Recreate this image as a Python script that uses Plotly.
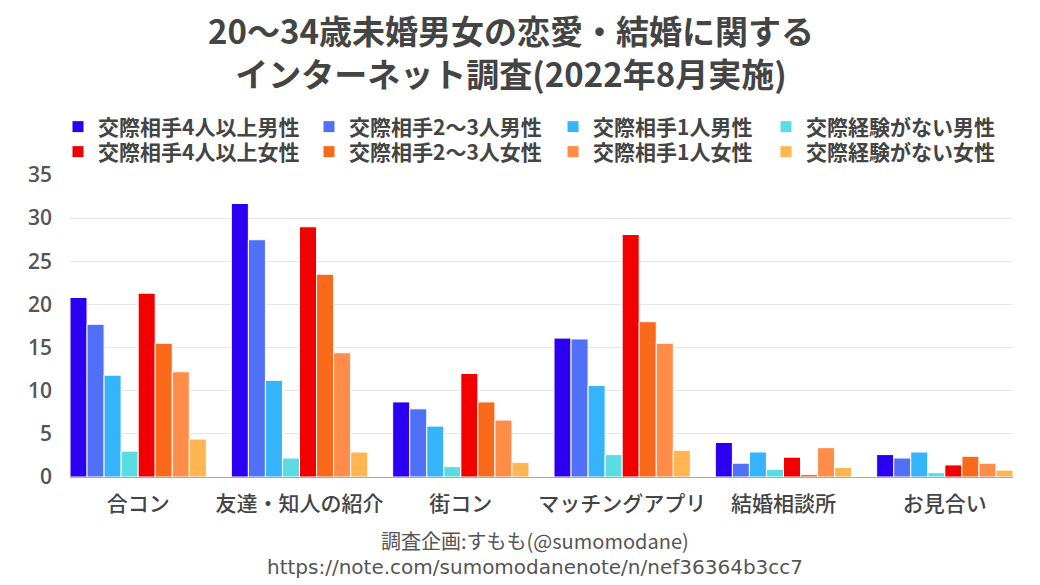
import plotly.graph_objects as go

categories = ["合コン", "友達・知人の紹介", "街コン", "マッチングアプリ", "結婚相談所", "お見合い"]

series_names = [
    "交際相手4人以上男性", "交際相手2〜3人男性", "交際相手1人男性", "交際経験がない男性",
    "交際相手4人以上女性", "交際相手2〜3人女性", "交際相手1人女性", "交際経験がない女性",
]

m_4plus = [20.8, 31.7, 8.7, 16.1, 4.0, 2.6]
m_2to3 = [17.7, 27.5, 7.9, 16.0, 1.6, 2.2]
m_1 = [11.8, 11.2, 5.9, 10.6, 2.9, 2.9]
m_none = [3.0, 2.2, 1.2, 2.6, 0.9, 0.5]
f_4plus = [21.3, 29.0, 12.0, 28.1, 2.3, 1.4]
f_2to3 = [15.5, 23.5, 8.7, 18.0, 0.3, 2.4]
f_1 = [12.2, 14.4, 6.6, 15.5, 3.4, 1.6]
f_none = [4.4, 2.9, 1.7, 3.1, 1.1, 0.8]

series_values = [m_4plus, m_2to3, m_1, m_none, f_4plus, f_2to3, f_1, f_none]
colors = ["#2b00f0", "#5070f8", "#36b4fb", "#5adde2",
          "#f20000", "#f8691a", "#ff8c48", "#ffb552"]

title_text = "20〜34歳未婚男女の恋愛・結婚に関する<br>インターネット調査(2022年8月実施)"
footer_lines = ["調査企画:すもも(@sumomodane)", "https://note.com/sumomodanenote/n/nef36364b3cc7"]

JP = "Noto Sans CJK JP"

# The page body has an 8px margin; the figure is sized to fill the rest of the window.
OFF = 8
W, H = 1040 - OFF, 585 - OFF
L, R, T, B = 70 - OFF, 27, 175 - OFF, 108

fig = go.Figure()
legend_ids = ["legend"] + [f"legend{k}" for k in range(2, 9)]
for i, (name, vals, col) in enumerate(zip(series_names, series_values, colors)):
    fig.add_trace(go.Bar(
        x=categories, y=vals, name=name,
        marker=dict(color=col, line=dict(color="white", width=1)),
        legend=legend_ids[i],
        hovertemplate="%{x}<br>" + name + ": %{y}<extra></extra>",
    ))

legend_common = dict(
    orientation="v", xref="container", yref="container", xanchor="left", yanchor="middle",
    font=dict(family=JP, size=21, color="#444", weight="bold"),
    bgcolor="rgba(0,0,0,0)", borderwidth=0, itemwidth=30, tracegroupgap=0,
    itemclick=False, itemdoubleclick=False,
)
text_x = [98, 349, 593, 806]   # screen x where legend text starts
row_y = [127, 152]             # screen y of legend rows
legends = {}
for i, lid in enumerate(legend_ids):
    cx = text_x[i % 4] - OFF - 40
    cy = row_y[i // 4] - OFF
    legends[lid] = dict(legend_common, x=cx / W, y=1 - cy / H)

fig.update_layout(
    width=W, height=H,
    margin=dict(l=L, r=R, t=T, b=B, autoexpand=False),
    paper_bgcolor="white", plot_bgcolor="white",
    barmode="group", bargap=0.155, bargroupgap=0,
    title=dict(text=title_text, x=(511 - OFF) / W, xanchor="center", xref="container",
               yref="container", y=1 - 36 / H, yanchor="top",
               font=dict(family=JP, size=33, color="#444", weight="bold")),
    xaxis=dict(range=[-0.4225, 5.4225], showgrid=False, showline=True, linecolor="#aaaaaa",
               linewidth=1, ticks="", tickfont=dict(family=JP, size=21, color="#444", weight=500),
               ticklabelstandoff=8, fixedrange=True),
    yaxis=dict(range=[0, 35], dtick=5, showgrid=True, gridcolor="#e6e6e6", gridwidth=1,
               zeroline=False, ticks="", ticklabelstandoff=17,
               tickfont=dict(family="Open Sans", size=21, color="#555", weight=600), fixedrange=True),
    showlegend=True,
    **legends,
)

plot_h = H - T - B
footer_fonts = [dict(family=JP, size=20, color="#555"),
                dict(family="DejaVu Sans", size=20, color="#555")]
for j, line in enumerate(footer_lines):
    ypix = 540 + 27 * j - OFF
    fig.add_annotation(text=line, xref="paper", yref="paper", x=(535 - 70) / (W - L - R),
                       y=(H - B - ypix) / plot_h, xanchor="center", yanchor="middle",
                       showarrow=False, font=footer_fonts[j])

fig.write_html("out.html")
